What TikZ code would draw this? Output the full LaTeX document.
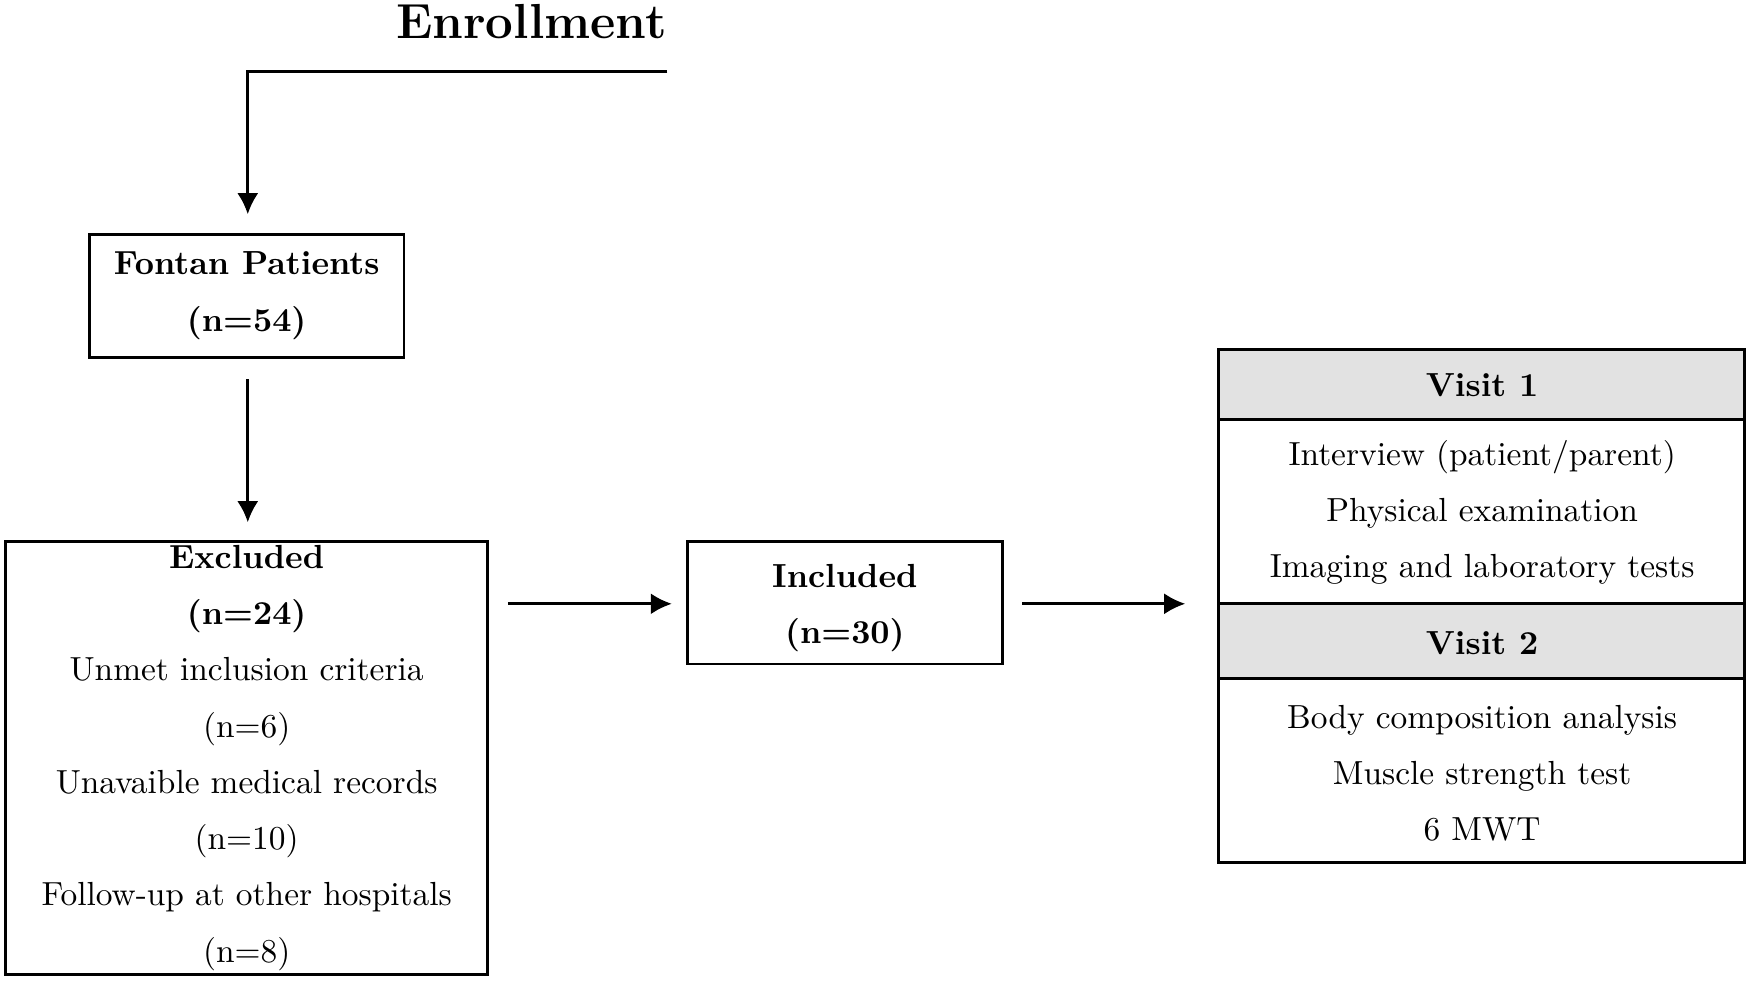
\documentclass[tikz,border=0pt]{standalone}
\usepackage{tikz}
\usetikzlibrary{positioning, calc}
\definecolor{head}{RGB}{226, 226, 226}
\tikzset{
  box/.style={draw, thick, align=center, font=\fontsize{9.5}{16}\selectfont},
  arr/.style={thick, -{Latex[length=6pt, width=6pt]}},
}
\usetikzlibrary{arrows.meta}
\begin{document}
\begin{tikzpicture}[x=0.01116cm, y=-0.01116cm]
  \useasboundingbox (0, 0) rectangle (1568, 879);
  % enrollment header
  \node[anchor=north east, font=\fontsize{14}{16}\selectfont\bfseries, inner sep=0] (enroll) at (598, 3) {Enrollment};
  \coordinate (top) at (598, 64);
  \coordinate (corner) at (222, 64);
  \coordinate (down) at (222, 192);
  \draw[arr] (top) -- (corner) -- (down);

  \draw[thick] (80, 210) rectangle (362, 320);
  \node[box, draw=none, font=\fontsize{9.5}{16}\selectfont\bfseries] (fontan) at (221, 265) {Fontan Patients\\(n=54)};
  \coordinate (fb) at (222, 340);
  \coordinate (fe) at (222, 468);
  \draw[arr] (fb) -- (fe);

  \draw[thick] (5, 485) rectangle (437, 873);
  \node[box, draw=none] (excl) at (221, 679)
    {\textbf{Excluded}\\\textbf{(n=24)}\\Unmet inclusion criteria\\(n=6)\\Unavaible medical records\\(n=10)\\Follow-up at other hospitals\\(n=8)};

  \draw[thick] (616, 485) rectangle (898, 595);
  \node[box, draw=none, font=\fontsize{9.5}{16}\selectfont\bfseries] (incl) at (757, 545) {Included\\(n=30)};

  \coordinate (a1) at (455, 541);
  \coordinate (a2) at (602, 541);
  \coordinate (b1) at (916, 541);
  \coordinate (b2) at (1062, 541);
  \draw[arr] (a1) -- (a2);
  \draw[arr] (b1) -- (b2);

  % visits
  \fill[head] (1092, 313) rectangle (1563, 376);
  \fill[head] (1092, 541) rectangle (1563, 608);
  \draw[thick] (1092, 313) rectangle (1563, 773);
  \draw[thick] (1092, 376) -- (1563, 376);
  \draw[thick] (1092, 541) -- (1563, 541);
  \draw[thick] (1092, 608) -- (1563, 608);
  \node[box, draw=none, font=\fontsize{9.5}{16}\selectfont\bfseries] (v1) at (1328, 345) {Visit 1};
  \node[box, draw=none] (v1t) at (1328, 459) {Interview (patient/parent)\\Physical examination\\Imaging and laboratory tests};
  \node[box, draw=none, font=\fontsize{9.5}{16}\selectfont\bfseries] (v2) at (1328, 576) {Visit 2};
  \node[box, draw=none] (v2t) at (1328, 693) {Body composition analysis\\Muscle strength test\\6 MWT};
\end{tikzpicture}
\end{document}
